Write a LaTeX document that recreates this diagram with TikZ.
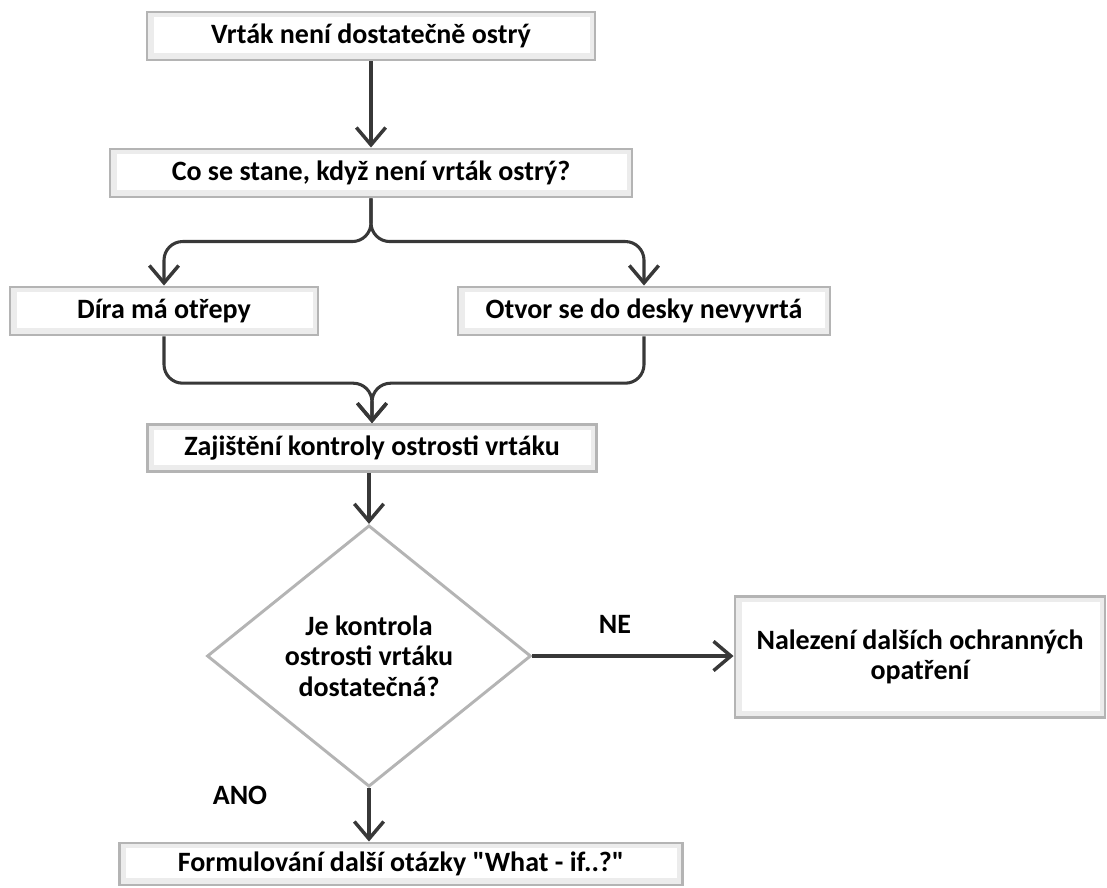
\documentclass[tikz,border=0pt]{standalone}
\usepackage{fontspec}
\setmainfont{Carlito}[Ligatures=TeXOff]
\usetikzlibrary{arrows.meta,shapes.geometric,calc}
\definecolor{frame}{HTML}{B4B4B4}
\definecolor{band}{HTML}{ECECEC}
\definecolor{conncol}{HTML}{383838}
\tikzset{
  txt/.style={font=\bfseries\fontsize{21}{23}\selectfont},
  box/.style={txt, draw=frame, line width=2.2pt, fill=band,
    align=center, inner sep=0pt,
    path picture={\fill[white] ([shift={(5pt,-4pt)}]path picture bounding box.north west) rectangle ([shift={(-4pt,5pt)}]path picture bounding box.south east);}},
  dia/.style={diamond, txt, draw=frame, line width=2.2pt, fill=white,
    align=center, inner sep=0pt, aspect=1.24},
  conn/.style={draw=conncol, line width=2.3pt, -{Straight Barb[length=13pt,width=22pt,line width=2.6pt]}},
  lbl/.style={txt, text=black},
}
\begin{document}
\begin{tikzpicture}[x=0.75pt,y=-0.75pt]
\useasboundingbox (0,0) rectangle (1107,888);
\node[box, minimum width=336pt, minimum height=36pt] (b1) at (371,36) {Vrták není dostatečně ostrý};
\node[box, minimum width=391.5pt, minimum height=36pt] (b2) at (371,173) {Co se stane, když není vrták ostrý?};
\node[box, minimum width=231pt, minimum height=36pt] (b3) at (164,311) {Díra má otřepy};
\node[box, minimum width=279pt, minimum height=36pt] (b4) at (644,311) {Otvor se do desky nevyvrtá};
\node[box, minimum width=337pt, minimum height=35pt] (b5) at (372,448) {Zajištění kontroly ostrosti vrtáku};
\node[dia, minimum width=243pt, minimum height=196pt] (d) at (369,656) {Je kontrola\\ostrosti vrtáku\\dostatečná?};
\node[box, minimum width=277.5pt, minimum height=91pt] (b7) at (920,657) {Nalezení dalších ochranných\\opatření};
\node[box, minimum width=422pt, minimum height=31.5pt] (b6) at (401,864) {Formulování další otázky "What - if..?"};
\node[lbl] (ne) at (615,624) {NE};
\node[lbl] (ano) at (240,795) {ANO};

\draw[conn] (b1.south) -- (b2.north);
\draw[conn, rounded corners=14pt] (b2.south) |- ([yshift=33pt]b3.north) -- (b3.north);
\draw[conn, rounded corners=14pt] (b2.south) |- ([yshift=33pt]b4.north) -- (b4.north);
\draw[conn, rounded corners=14pt] (b3.south) |- ([yshift=30pt]b5.north) -- (b5.north);
\draw[conn, rounded corners=14pt] (b4.south) |- ([yshift=30pt]b5.north) -- (b5.north);
\draw[conn] (d.north |- b5.south) -- (d.north);
\draw[conn] (d.east) -- (d.east -| b7.west);
\draw[conn] (d.south) -- (d.south |- b6.north);
\end{tikzpicture}
\end{document}
